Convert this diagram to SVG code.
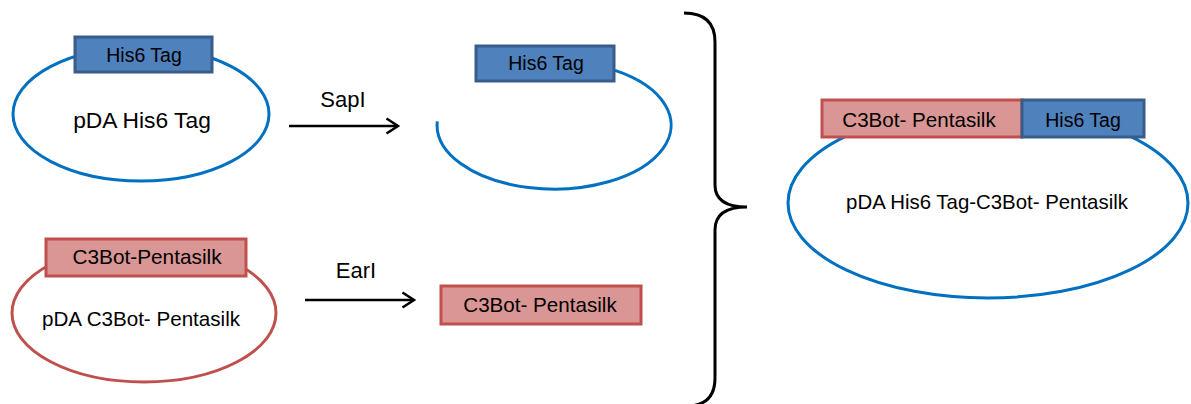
<svg xmlns="http://www.w3.org/2000/svg" width="1191" height="404" viewBox="0 0 1191 404">
<style>
.bg{fill:#ffffff}
.pb{fill:#ffffff;stroke:#0070C0;stroke-width:3}
.pr{fill:#ffffff;stroke:#C0504D;stroke-width:3}
.arc{fill:none;stroke:#0070C0;stroke-width:3}
.tb{fill:#4F81BD;stroke:#385D8A;stroke-width:3}
.tr{fill:#D99694;stroke:#C0504D;stroke-width:3}
text{font-family:"Liberation Sans",Arial,sans-serif;fill:#000000;text-anchor:middle}
.conn{stroke:#000000;stroke-width:2.5;fill:none}
.brace{stroke:#000000;stroke-width:3;fill:none}
</style>
<defs>
<marker id="open" markerWidth="16" markerHeight="18" refX="13" refY="9" orient="auto" markerUnits="userSpaceOnUse">
<path d="M1.5 1.5 L13 9 L1.5 16.5" fill="none" stroke="#000000" stroke-width="2.5"/>
</marker>
</defs>
<rect class="bg" x="0" y="0" width="1191" height="404"/>

<g id="pda-his6">
<ellipse class="pb" cx="141" cy="114" rx="128" ry="67"/>
<rect class="tb" x="75" y="37" width="137" height="35"/>
<text x="144" y="62" font-size="19.5">His6 Tag</text>
<text x="142" y="128" font-size="22.8">pDA His6 Tag</text>
</g>

<g id="cut-his6">
<path class="arc" d="M 615 70.4 A 117 64 0 1 1 437.3 121.3"/>
<rect class="tb" x="476" y="46" width="138" height="35"/>
<text x="546" y="70" font-size="19.5">His6 Tag</text>
</g>

<g id="pda-c3bot">
<ellipse class="pr" cx="144" cy="313" rx="132" ry="69"/>
<rect class="tr" x="46" y="239" width="200" height="37"/>
<text x="147" y="264" font-size="20.8">C3Bot-Pentasilk</text>
<text x="141" y="326" font-size="20.6">pDA C3Bot- Pentasilk</text>
</g>

<g id="c3bot-fragment">
<rect class="tr" x="441" y="286" width="200" height="38"/>
<text x="540" y="312" font-size="20.6">C3Bot- Pentasilk</text>
</g>

<g id="pda-fusion">
<ellipse class="pb" cx="988" cy="203" rx="200" ry="95"/>
<rect class="tr" x="822" y="100" width="200" height="37"/>
<rect class="tb" x="1022" y="100" width="122" height="37"/>
<text x="919" y="127" font-size="20.6">C3Bot- Pentasilk</text>
<text x="1083" y="127" font-size="19.5">His6 Tag</text>
<text x="987" y="209" font-size="20.4">pDA His6 Tag-C3Bot- Pentasilk</text>
</g>

<g id="connectors">
<line class="conn" x1="289" y1="126" x2="398" y2="126" marker-end="url(#open)"/>
<text x="343" y="107" font-size="22">SapI</text>
<line class="conn" x1="305" y1="300" x2="414" y2="300" marker-end="url(#open)"/>
<text x="356" y="278" font-size="22">EarI</text>
<path class="brace" d="M 684 13 Q 715 13 715 42 L 715 185 Q 715 207 747 207 Q 715 207 715 230 L 715 378 Q 715 404 690 406"/>
</g>
</svg>
